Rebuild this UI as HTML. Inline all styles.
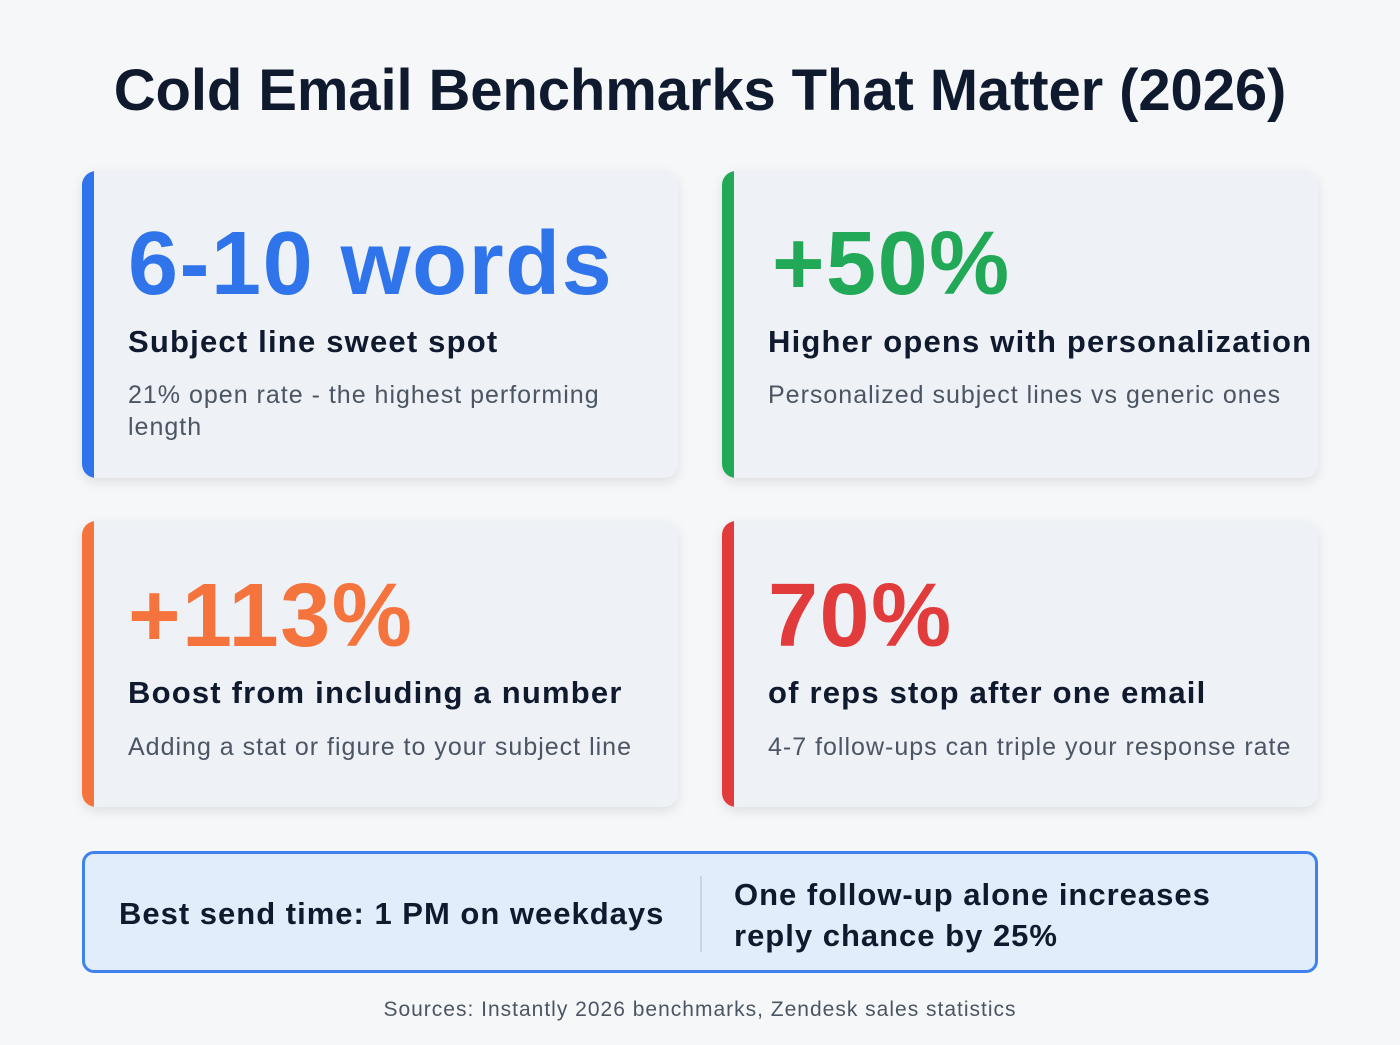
<!DOCTYPE html>
<html><head><meta charset="utf-8"><style>
*{margin:0;padding:0;box-sizing:border-box}
body{width:1400px;height:1045px;background:#f6f7f9;font-family:"Liberation Sans",sans-serif;position:relative;overflow:hidden}
.abs{position:absolute}
h1{position:absolute;left:0;width:1400px;top:56px;text-align:center;font-size:58px;font-weight:700;color:#0f1a2e;letter-spacing:-0.1px;line-height:70px}
.card{position:absolute;width:596px;background:#eef1f5;border-radius:14px;box-shadow:0 4px 12px rgba(0,0,0,0.10);overflow:hidden}
.bar{position:absolute;left:0;top:0;bottom:0;width:12px}
.big{position:absolute;left:46px;font-size:90px;font-weight:700;line-height:1;letter-spacing:1.5px}
.sub{position:absolute;left:46px;font-size:31px;font-weight:700;color:#0f1a2e;line-height:36px;white-space:nowrap;letter-spacing:1.2px}
.desc{position:absolute;left:46px;font-size:25px;color:#4b5563;line-height:32px;width:490px;letter-spacing:1px}
</style></head><body>
<h1>Cold Email Benchmarks That Matter (2026)</h1>

<div class="card" style="left:82px;top:171px;height:307px">
  <div class="bar" style="background:#2f74ea"></div>
  <div class="big" style="top:48px;color:#2f74ea">6-10 words</div>
  <div class="sub" style="top:153px">Subject line sweet spot</div>
  <div class="desc" style="top:208px">21% open rate - the highest performing length</div>
</div>

<div class="card" style="left:722px;top:171px;height:307px">
  <div class="bar" style="background:#22a957"></div>
  <div class="big" style="top:48px;left:50px;color:#22a957">+50%</div>
  <div class="sub" style="top:153px">Higher opens with personalization</div>
  <div class="desc" style="top:208px;width:560px">Personalized subject lines vs generic ones</div>
</div>

<div class="card" style="left:82px;top:521px;height:286px">
  <div class="bar" style="background:#f5733c"></div>
  <div class="big" style="top:50px;color:#f5733c">+113%</div>
  <div class="sub" style="top:154px">Boost from including a number</div>
  <div class="desc" style="top:210px;width:560px">Adding a stat or figure to your subject line</div>
</div>

<div class="card" style="left:722px;top:521px;height:286px">
  <div class="bar" style="background:#e13b3b"></div>
  <div class="big" style="top:50px;color:#e13b3b">70%</div>
  <div class="sub" style="top:154px">of reps stop after one email</div>
  <div class="desc" style="top:210px;width:570px">4-7 follow-ups can triple your response rate</div>
</div>

<div class="abs" style="left:82px;top:851px;width:1236px;height:122px;border:3px solid #3d82ef;border-radius:12px;background:#e2edfb">
  <div class="abs" style="left:34px;top:42px;font-size:31px;font-weight:700;color:#0f1a2e;white-space:nowrap;letter-spacing:1px">Best send time: 1 PM on weekdays</div>
  <div class="abs" style="left:615px;top:22px;width:2px;height:76px;background:#c8d4e4"></div>
  <div class="abs" style="left:649px;top:20px;font-size:31px;font-weight:700;color:#0f1a2e;line-height:41px;white-space:nowrap;letter-spacing:1px">One follow-up alone increases<br>reply chance by 25%</div>
</div>

<div class="abs" style="left:0;width:1400px;top:998px;text-align:center;font-size:21px;color:#4b5563;letter-spacing:1px">Sources: Instantly 2026 benchmarks, Zendesk sales statistics</div>
</body></html>
